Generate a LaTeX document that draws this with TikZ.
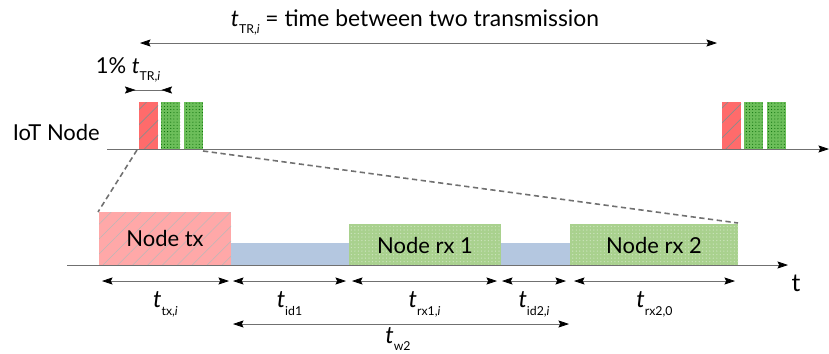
\documentclass[tikz,border=0pt]{standalone}
\usepackage{fontspec}
\setmainfont{Lato}
\usetikzlibrary{patterns.meta,arrows.meta,positioning}

\definecolor{txred}{HTML}{FF6B6B}
\definecolor{txpink}{HTML}{FFA8A8}
\definecolor{rxgreen}{HTML}{6CBE5A}
\definecolor{rxlight}{HTML}{A9D18E}
\definecolor{idleblue}{HTML}{B4C7E0}
\definecolor{axisgray}{HTML}{707070}

\newcommand{\tsub}[1]{\textit{t}\raisebox{-0.6ex}{\scriptsize #1}}

\tikzset{
	tip/.style={-{Stealth[length=6pt,width=4pt,inset=1pt,color=black]}},
	dim/.style={{Stealth[length=6pt,width=4pt,inset=1pt,color=black]}-{Stealth[length=6pt,width=4pt,inset=1pt,color=black]}, draw=axisgray, thin},
	axisline/.style={draw=axisgray, thin},
	zoomline/.style={draw=axisgray, line width=0.9pt, dash pattern=on 3pt off 2pt},
	txsmall/.style={preaction={fill=txred}, pattern={Lines[angle=45,distance=6pt,line width=0.4pt]}, pattern color=gray!90},
	txbig/.style={preaction={fill=txpink}, pattern={Lines[angle=45,distance=6pt,line width=0.3pt]}, pattern color=gray!55},
	rxsmall/.style={preaction={fill=rxgreen}, pattern={Dots[distance=1.8pt,radius=0.3pt]}, pattern color=black!60!green},
	rxbig/.style={preaction={fill=rxlight}, pattern={Dots[distance=2pt,radius=0.4pt]}, pattern color=rxlight!60!white},
	idlebox/.style={fill=idleblue},
	lbl/.style={font=\fontsize{12.5}{14}\selectfont, text=black},
	dimlbl/.style={font=\fontsize{13.5}{15}\selectfont, inner sep=1pt, text=black}
}

\begin{document}
\begin{tikzpicture}[x=0.02cm, y=-0.02cm]
	\useasboundingbox (0,0) rectangle (829,353);

	% Ciclo completo
		\coordinate (trA) at (140,43);
		\coordinate (trB) at (717,43);
		\draw[dim] (trA) -- (trB);
		\node[lbl, font=\fontsize{13}{15}\selectfont] (trlbl) at (415,22) {\tsub{TR,\textit{i}} = time between two transmission};

	% 1% del ciclo
		\node[lbl] (dutylbl) at (128,70) {1\% \tsub{TR,\textit{i}}};
		\coordinate (dutyA) at (125,90);
		\coordinate (dutyB) at (172,90);
		\draw[{Stealth[length=6pt,width=4pt,inset=1pt,reversed,color=black]}-{Stealth[length=6pt,width=4pt,inset=1pt,reversed,color=black]}, draw=axisgray, thin] (dutyA) -- (dutyB);

	% Eje del nodo IoT
		\node[lbl, anchor=east] (iot) at (106,132) {IoT Node};
		\coordinate (axA) at (107,149);
		\coordinate (axB) at (829,149);

		% Ráfagas
			\fill[txsmall] (139,102) rectangle (158,149);
			\fill[rxsmall] (161,102) rectangle (180,149);
			\fill[rxsmall] (184,102) rectangle (203,149);
			\fill[txsmall] (722,102) rectangle (741,149);
			\fill[rxsmall] (744,102) rectangle (763,149);
			\fill[rxsmall] (767,102) rectangle (786,149);
		\draw[axisline, tip] (axA) -- (axB);

	% Ampliación
		\coordinate (b0) at (99,265);
		\coordinate (b1) at (231,265);
		\coordinate (b2) at (349,265);
		\coordinate (b3) at (501,265);
		\coordinate (b4) at (570,265);
		\coordinate (b5) at (738,265);

		\draw[zoomline] (137,150) -- (98,212);
		\draw[zoomline] (203,151) -- (738,223);

		% Bloques
			\fill[txbig] (b0) rectangle (231,212);
			\fill[idlebox] (b1) rectangle (349,243);
			\fill[rxbig] (b2) rectangle (501,224);
			\fill[idlebox] (b3) rectangle (570,243);
			\fill[rxbig] (b4) rectangle (738,224);

			\node[lbl] (tx) at (165,238) {Node tx};
			\node[lbl] (rx1) at (425,245) {Node rx 1};
			\node[lbl] (rx2) at (654,245) {Node rx 2};

		% Eje temporal
			\coordinate (tA) at (67,265);
			\coordinate (tB) at (788,265);
			\draw[axisline, tip] (tA) -- (tB);
			\node[lbl, font=\fontsize{14}{16}\selectfont] (tlbl) at (796,283) {t};

	% Duraciones
		\draw[dim] (102,281) -- (229,281) node[dimlbl, midway, below=5pt] (ttx) {\tsub{tx,\textit{i}}};
		\draw[dim] (233,281) -- (346,281) node[dimlbl, midway, below=5pt] (tid1) {\tsub{id1}};
		\draw[dim] (352,281) -- (497,281) node[dimlbl, midway, below=5pt] (trx1) {\tsub{rx1,\textit{i}}};
		\draw[dim] (502,281) -- (566,281) node[dimlbl, midway, below=5pt] (tid2) {\tsub{id2,\textit{i}}};
		\draw[dim] (574,281) -- (735,281) node[dimlbl, midway, below=5pt] (trx2) {\tsub{rx2,0}};

		\draw[dim] (233,324) -- (569,324);
		\node[dimlbl, anchor=north] (tw2) at (398,325) {\tsub{w2}};
\end{tikzpicture}
\end{document}
